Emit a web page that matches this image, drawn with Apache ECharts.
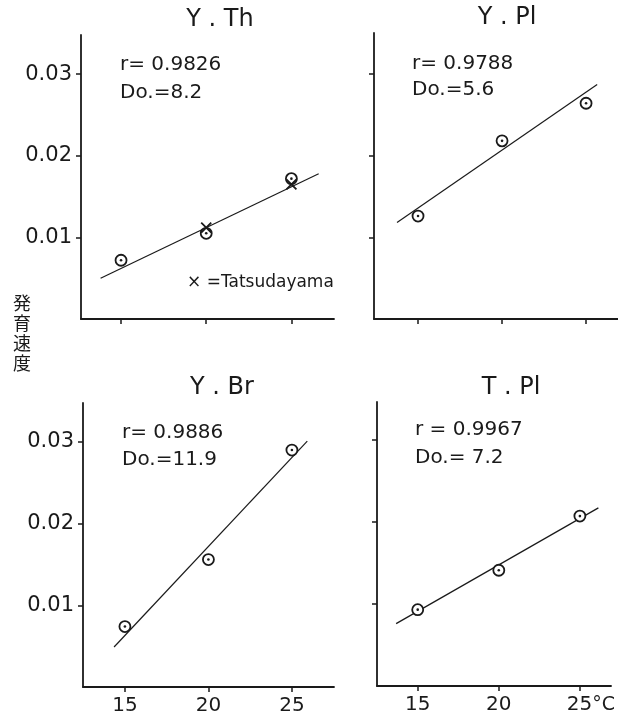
<!DOCTYPE html>
<html>
<head>
<meta charset="utf-8">
<script src="https://cdn.jsdelivr.net/npm/echarts@6/dist/echarts.min.js"></script>
<style>
html,body{margin:0;padding:0;background:#fff;}
#c{width:618px;height:721px;}
</style>
</head>
<body>
<div id="c"></div>
<script>
// ---- data ----
const temps = [15, 20, 25];
const xTicks = [15, 20, 25];
const yTicks = [0.01, 0.02, 0.03];

const titles = ['Y . Th', 'Y . Pl', 'Y . Br', 'T . Pl'];
const rTexts = ['r= 0.9826', 'r= 0.9788', 'r= 0.9886', 'r = 0.9967'];
const doTexts = ['Do.=8.2', 'Do.=5.6', 'Do.=11.9', 'Do.= 7.2'];

const yTh = [0.0072, 0.0105, 0.0172];
const yPl = [0.0126, 0.0218, 0.0264];
const yBr = [0.0074, 0.0156, 0.0290];
const tPl = [0.0093, 0.0141, 0.0207];

const tatsuTemps = [20, 25];
const tatsuTh = [0.0112, 0.0165];

// regression line end points [x0, x1], [y0, y1]
const fitThX = [13.8, 26.6], fitThY = [0.0050, 0.0178];
const fitPlX = [13.75, 25.66], fitPlY = [0.0118, 0.0287];
const fitBrX = [14.35, 25.92], fitBrY = [0.0049, 0.0301];
const fitTPlX = [13.67, 26.14], fitTPlY = [0.0076, 0.0217];

const yLabel = '発\n育\n速\n度';
const legendText = '× =Tatsudayama';

// ---- layout ----
const FONT = 'DejaVu Sans';
const INK = '#1a1a1a';
const grids = [
  {left: 81, top: 35, width: 253, height: 284, xmin: 12.65, xmax: 27.5, ymax: 0.0348},
  {left: 374, top: 33, width: 244, height: 286, xmin: 12.38, xmax: 26.9, ymax: 0.0350},
  {left: 83, top: 403, width: 251, height: 284, xmin: 12.49, xmax: 27.52, ymax: 0.03476},
  {left: 377, top: 402, width: 241, height: 284, xmin: 12.49, xmax: 26.92, ymax: 0.0346}
];

const pts = [yTh, yPl, yBr, tPl];
const fits = [[fitThX, fitThY], [fitPlX, fitPlY], [fitBrX, fitBrY], [fitTPlX, fitTPlY]];

const option = {
  animation: false,
  backgroundColor: '#fff',
  grid: grids.map(g => ({left: g.left, top: g.top, width: g.width, height: g.height, containLabel: false})),
  xAxis: grids.map((g, i) => ({
    type: 'value', gridIndex: i, min: g.xmin, max: g.xmax,
    splitLine: {show: false},
    axisLine: {show: true, onZero: false, lineStyle: {color: INK, width: 1.8}},
    axisTick: {show: true, customValues: xTicks, length: 5, inside: false, lineStyle: {color: INK, width: 1.5}},
    axisLabel: {
      show: i >= 2, customValues: xTicks, margin: 9,
      fontFamily: FONT, fontSize: 20, color: INK,
      formatter: (v) => (i === 3 && v === 25) ? '{p|}' + v + '{u|°C}' : String(v),
      rich: {p: {width: 22}, u: {fontFamily: FONT, fontSize: 19, color: INK}}
    }
  })),
  yAxis: grids.map((g, i) => ({
    type: 'value', gridIndex: i, min: 0, max: g.ymax,
    splitLine: {show: false},
    axisLine: {show: true, onZero: false, lineStyle: {color: INK, width: 1.8}},
    axisTick: {show: true, customValues: yTicks, length: 5, inside: false, lineStyle: {color: INK, width: 1.5}},
    axisLabel: {
      show: i === 0 || i === 2, customValues: yTicks, margin: 9,
      fontFamily: FONT, fontSize: 21, color: INK,
      formatter: (v) => v.toFixed(2)
    }
  })),
  series: [],
  graphic: []
};

grids.forEach((g, i) => {
  const fx = fits[i][0], fy = fits[i][1];
  option.series.push({
    type: 'line', xAxisIndex: i, yAxisIndex: i, showSymbol: false, symbol: 'none',
    data: fx.map((x, k) => [x, fy[k]]),
    lineStyle: {color: INK, width: 1.2}, z: 2, silent: true
  });
  option.series.push({
    type: 'scatter', xAxisIndex: i, yAxisIndex: i, symbol: 'circle', symbolSize: 11,
    data: temps.map((t, k) => [t, pts[i][k]]),
    itemStyle: {color: '#fff', borderColor: INK, borderWidth: 1.8, opacity: 1}, z: 3
  });
  option.series.push({
    type: 'scatter', xAxisIndex: i, yAxisIndex: i, symbol: 'circle', symbolSize: 2.6,
    data: temps.map((t, k) => [t, pts[i][k]]),
    itemStyle: {color: INK, opacity: 1}, z: 4
  });
});

// Tatsudayama crosses in panel 1
option.series.push({
  type: 'scatter', xAxisIndex: 0, yAxisIndex: 0,
  symbol: 'path://M0,0L10,10M10,0L0,10', symbolSize: 10,
  data: tatsuTemps.map((t, k) => [t, tatsuTh[k]]),
  itemStyle: {color: 'none', borderColor: INK, borderWidth: 1.8, opacity: 1}, z: 5
});

// titles and annotations
const titlePos = [[220, 20], [507, 18], [222, 388], [511, 388]];
const annPos = [[120, 65, 93], [412, 64, 90], [122, 433, 460], [415, 430, 458]];
titles.forEach((t, i) => {
  option.graphic.push({type: 'text', x: titlePos[i][0], y: titlePos[i][1], z: 10,
    style: {text: t, font: '24px "' + FONT + '"', fill: INK, textAlign: 'center', textVerticalAlign: 'middle'}});
  option.graphic.push({type: 'text', x: annPos[i][0], y: annPos[i][1], z: 10,
    style: {text: rTexts[i], font: '20px "' + FONT + '"', fill: INK, textAlign: 'left', textVerticalAlign: 'middle'}});
  option.graphic.push({type: 'text', x: annPos[i][0], y: annPos[i][2], z: 10,
    style: {text: doTexts[i], font: '20px "' + FONT + '"', fill: INK, textAlign: 'left', textVerticalAlign: 'middle'}});
});
option.graphic.push({type: 'text', x: 187, y: 283, z: 10,
  style: {text: legendText, font: '17px "' + FONT + '"', fill: INK, textAlign: 'left', textVerticalAlign: 'middle'}});
option.graphic.push({type: 'text', x: 22, y: 293, z: 10,
  style: {text: yLabel, font: '18px "Noto Sans CJK JP"', lineHeight: 20, fill: INK, textAlign: 'center', textVerticalAlign: 'top'}});

const chart = echarts.init(document.getElementById('c'), null, {renderer: 'canvas'});
chart.setOption(option);
</script>
</body>
</html>
